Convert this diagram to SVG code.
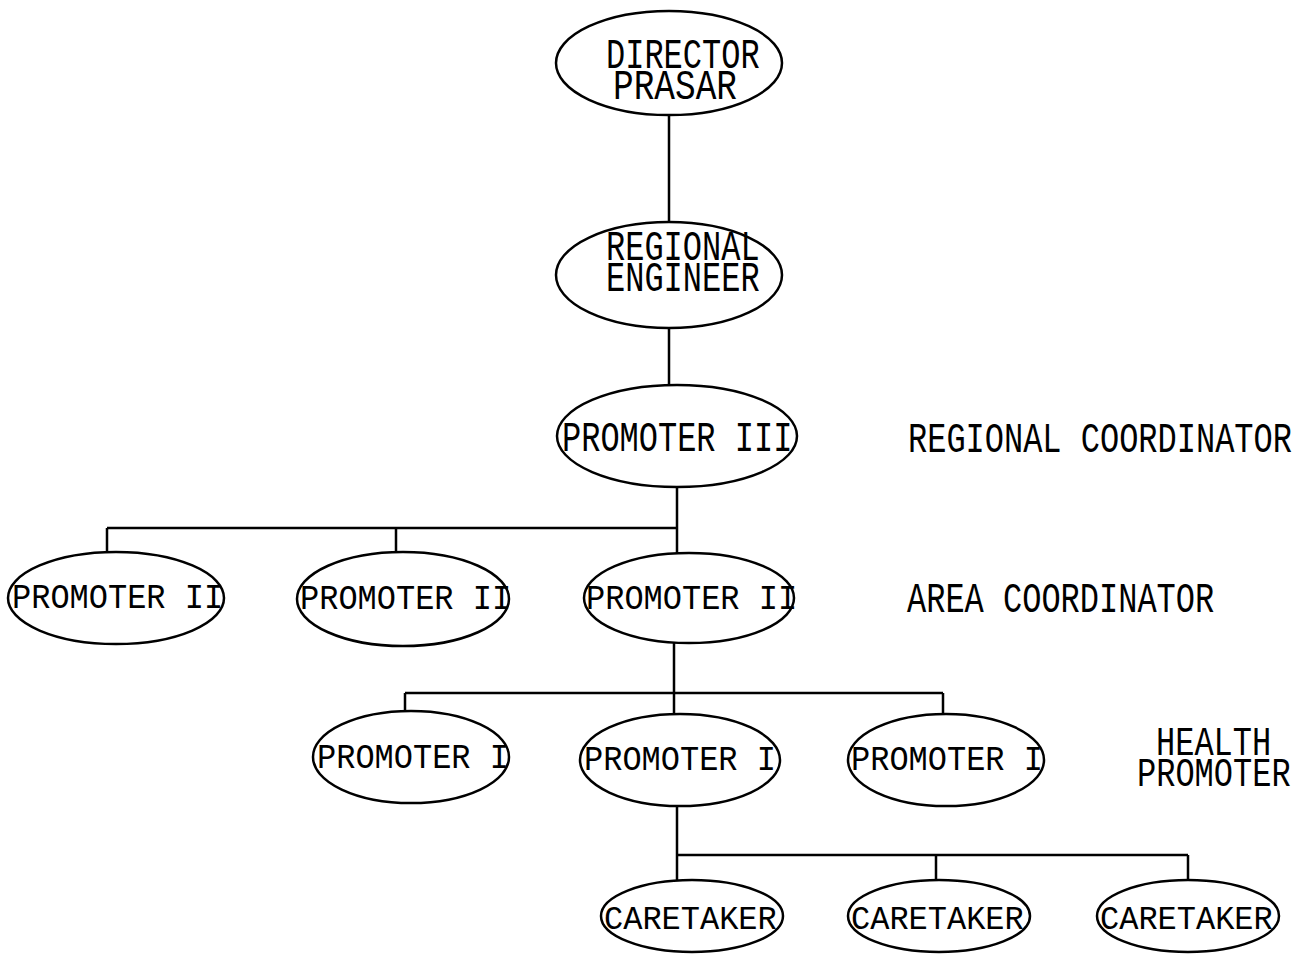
<svg xmlns="http://www.w3.org/2000/svg" width="1297" height="954" viewBox="0 0 1297 954">
<style>
.n{fill:#fff;stroke:#000;stroke-width:2.5}
.c{fill:none;stroke:#000;stroke-width:2.5}
text{font-family:"Liberation Mono","Courier New",monospace;fill:#000;font-size:32px}
</style>
<rect width="1297" height="954" fill="#fff"/>
<g id="connectors">
<path class="c" d="M669 115V222M669 328V386M677 487V553M107 528H677M107 528V553M396 528V553"/>
<path class="c" d="M674 642V715M405 693H943M405 693V712M943 693V715"/>
<path class="c" d="M677 805V880M677 855H1188M936 855V880M1188 855V880"/>
</g>
<g id="director"><ellipse class="n" cx="669" cy="63" rx="113" ry="52"/>
<text transform="translate(0,68) scale(1,1.3)"><tspan x="606" y="0">DIRECTOR</tspan><tspan x="613" dy="23.5" textLength="124" lengthAdjust="spacingAndGlyphs">PRASAR</tspan></text></g>
<g id="regional-engineer"><ellipse class="n" cx="669" cy="275" rx="113" ry="53"/>
<text transform="translate(0,260) scale(1,1.3)"><tspan x="606" y="0">REGIONAL</tspan><tspan x="606" dy="23.8">ENGINEER</tspan></text></g>
<g id="promoter3"><ellipse class="n" cx="677" cy="436" rx="120" ry="51"/>
<text transform="translate(562,451) scale(1,1.35)">PROMOTER III</text></g>
<g id="promoter2a"><ellipse class="n" cx="116" cy="598" rx="108" ry="46"/>
<text transform="translate(12,608) scale(1,1.1)">PROMOTER II</text></g>
<g id="promoter2b"><ellipse class="n" cx="403" cy="599" rx="106" ry="47"/>
<text transform="translate(300,609) scale(1,1.1)">PROMOTER II</text></g>
<g id="promoter2c"><ellipse class="n" cx="689" cy="598" rx="105" ry="45"/>
<text transform="translate(586,609) scale(1,1.1)">PROMOTER II</text></g>
<g id="promoter1a"><ellipse class="n" cx="411" cy="757" rx="98" ry="46"/>
<text transform="translate(317,768) scale(1,1.1)">PROMOTER I</text></g>
<g id="promoter1b"><ellipse class="n" cx="680" cy="760" rx="100" ry="46"/>
<text transform="translate(584,770) scale(1,1.1)">PROMOTER I</text></g>
<g id="promoter1c"><ellipse class="n" cx="946" cy="760" rx="98" ry="46"/>
<text transform="translate(851,770) scale(1,1.1)">PROMOTER I</text></g>
<g id="caretaker1"><ellipse class="n" cx="692" cy="916" rx="91" ry="36"/>
<text transform="translate(604,929) scale(1,1.05)">CARETAKER</text></g>
<g id="caretaker2"><ellipse class="n" cx="939" cy="916" rx="91" ry="36"/>
<text transform="translate(851,929) scale(1,1.05)">CARETAKER</text></g>
<g id="caretaker3"><ellipse class="n" cx="1188" cy="916" rx="91" ry="36"/>
<text transform="translate(1100,929) scale(1,1.05)">CARETAKER</text></g>
<g id="labels">
<text transform="translate(908,452) scale(1,1.35)">REGIONAL COORDINATOR</text>
<text transform="translate(907,612) scale(1,1.3)">AREA COORDINATOR</text>
<text transform="translate(0,755) scale(1,1.25)"><tspan x="1156" y="0">HEALTH</tspan><tspan x="1137" dy="25">PROMOTER</tspan></text>
</g>
</svg>
